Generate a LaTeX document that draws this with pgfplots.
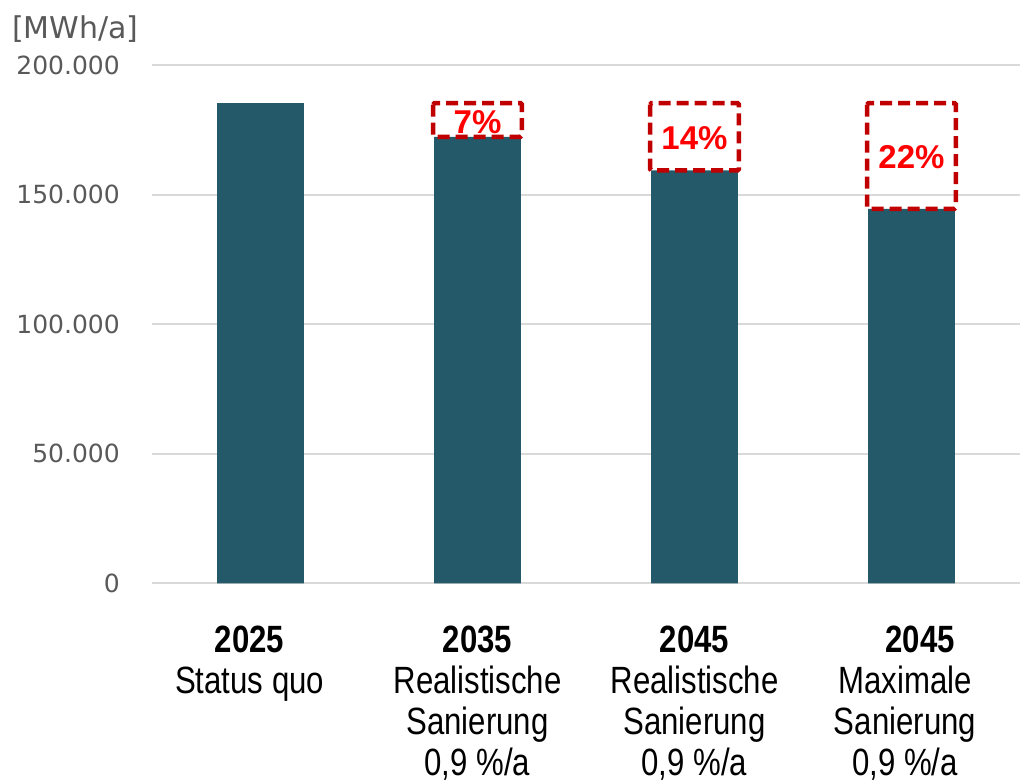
\documentclass[border=0pt]{standalone}
\usepackage{pgfplots}
\pgfplotsset{compat=1.18}
\usepackage{fontspec}
\setmainfont{Liberation Sans}
\newfontfamily\dejavu{DejaVu Sans}
\newfontfamily\catfont[FakeStretch=0.82]{Liberation Sans}
\definecolor{barcol}{RGB}{35,89,104}
\definecolor{gridcol}{RGB}{217,217,217}
\definecolor{tickcol}{RGB}{89,89,89}
\definecolor{boxred}{RGB}{192,0,0}
\definecolor{txtred}{RGB}{255,0,0}
\begin{document}
\begin{tikzpicture}
\useasboundingbox (-152pt,-199.7pt) rectangle (871pt,583.3pt);
\begin{axis}[
  at={(0pt,0pt)}, anchor=south west,
  scale only axis, width=868pt, height=518pt,
  xmin=-0.5, xmax=3.5, ymin=0, ymax=200000,
  axis line style={draw=none}, tick style={draw=none},
  major tick length=0pt,
  ytick={0,50000,100000,150000,200000},
  yticklabels={0,50.000,100.000,150.000,200.000},
  scaled y ticks=false,
  xtick=\empty,
  ymajorgrids, grid style={gridcol, line width=2pt},
  yticklabel style={font=\dejavu\fontsize{25}{30}\selectfont, text=tickcol, inner sep=0pt, xshift=-32pt},
  clip=false,
]
\addplot[ybar, bar width=0.4, fill=barcol, draw=none] coordinates {(0,185400) (1,172400) (2,159400) (3,144600)};

% dashed reduction boxes
\draw[boxred, line width=4.5pt, dash pattern=on 12pt off 6pt, rounded corners=1.5pt] (axis cs:0.795,185400) rectangle (axis cs:1.205,172400);
\draw[boxred, line width=4.5pt, dash pattern=on 12pt off 6pt, rounded corners=1.5pt] (axis cs:1.795,185400) rectangle (axis cs:2.205,159400);
\draw[boxred, line width=4.5pt, dash pattern=on 12pt off 6pt, rounded corners=1.5pt] (axis cs:2.795,185400) rectangle (axis cs:3.205,144600);
\node[font=\bfseries\fontsize{33}{38}\selectfont, text=txtred] at (axis cs:1,178100) {7\%};
\node[font=\bfseries\fontsize{33}{38}\selectfont, text=txtred] at (axis cs:2,172000) {14\%};
\node[font=\bfseries\fontsize{33}{38}\selectfont, text=txtred] at (axis cs:3,164500) {22\%};

% category labels
\node[anchor=north, align=center, inner sep=0pt, yshift=-42pt, font=\catfont\fontsize{38}{41}\selectfont] at (axis cs:-0.05,0) {\textbf{2025}\\Status quo};
\node[anchor=north, align=center, inner sep=0pt, yshift=-42pt, font=\catfont\fontsize{38}{41}\selectfont] at (axis cs:1,0) {\textbf{2035}\\Realistische\\Sanierung\\0,9 \%/a};
\node[anchor=north, align=center, inner sep=0pt, yshift=-42pt, font=\catfont\fontsize{38}{41}\selectfont] at (axis cs:2,0) {\textbf{2045}\\Realistische\\Sanierung\\0,9 \%/a};
\node[anchor=north, align=center, inner sep=0pt, yshift=-42pt, font=\catfont\fontsize{38}{41}\selectfont] at (axis cs:3.04,0) {\textbf{2045}};
\node[anchor=north, align=center, inner sep=0pt, yshift=-82pt, font=\catfont\fontsize{38}{41}\selectfont] at (axis cs:2.97,0) {Maximale\\Sanierung\\0,9 \%/a};
\end{axis}
\node[anchor=base west, inner sep=0pt, font=\dejavu\fontsize{30}{34}\selectfont, text=tickcol] at (-140pt,544.3pt) {[MWh/a]};
\end{tikzpicture}
\end{document}
